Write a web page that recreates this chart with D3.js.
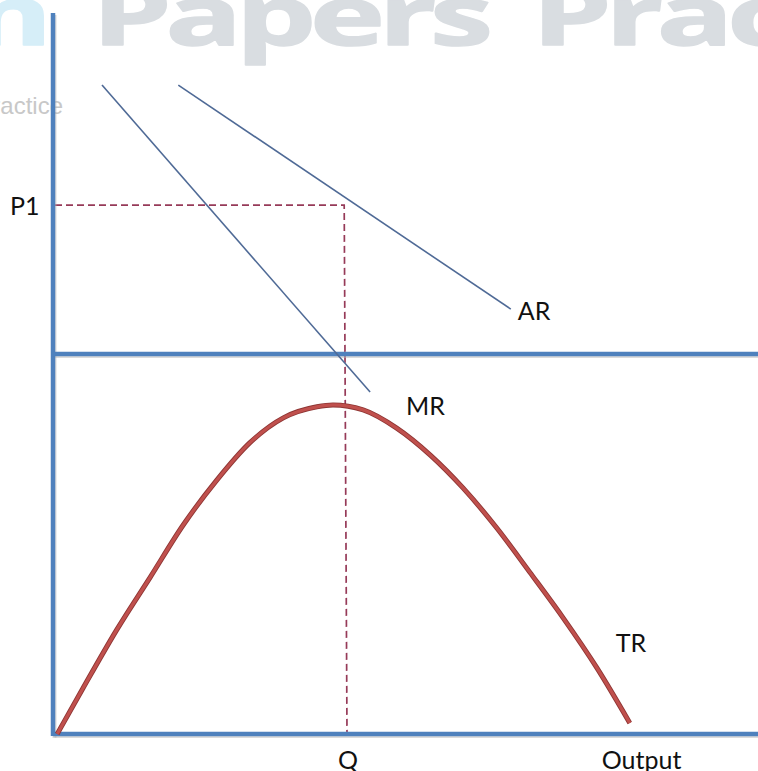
<!DOCTYPE html>
<html>
<head>
<meta charset="utf-8">
<script src="https://cdn.jsdelivr.net/npm/d3@7"></script>
<style>
  body { margin: 0; background: #fff; }
  svg { display: block; }
</style>
</head>
<body>
<svg id="chart"></svg>
<script>
// revenue curves (output 0-100, price / revenue 0-100)
const arOutput = [17.9, 65.4];
const arPrice = [79.1, 13.2];
const mrOutput = [7.0, 45.3];
const mrPrice = [79.1, -11.2];

const trOutput = [0.6, 4.3, 9.1, 13.9, 18.6, 23.4, 28.1, 32.9, 37.7, 40.0, 44.3, 49.1, 53.9, 58.6, 63.4, 68.1, 72.9, 77.7, 82.4];
const trRevenue = [0, 12.1, 27.4, 41.3, 55.0, 66.8, 76.6, 83.2, 86.1, 86.6, 85.3, 80.5, 73.4, 64.7, 54.2, 42.6, 30.5, 17.4, 2.9];

const p1 = 43.8;
const qOutput = [41.6, 42.0];   // dashed drop line drifts slightly
const labels = ["P1", "AR", "MR", "TR", "Q", "Output"];

const width = 758;
const height = 771;

const svg = d3.select('#chart')
    .attr('width', width)
    .attr('height', height);

let x = d3.scaleLinear().domain([0, 100]).range([53, 753]);
let yTop = d3.scaleLinear().domain([0, 100]).range([354, 14]);
let yBot = d3.scaleLinear().domain([0, 100]).range([734, 354]);

// watermark, stretched wide like the source logo
const wm = svg.append("g").attr("font-family", "Open Sans").attr("font-weight", 700)
    .attr("font-size", 82).attr("letter-spacing", -4)
    .attr("stroke-width", 1.5).attr("stroke-linejoin", "round");
let papers = wm.append("text").attr("fill", "#d9dde1").attr("stroke", "#d9dde1").text("Papers");
let sx = 395 / papers.node().getComputedTextLength();
papers.attr("transform", `translate(92,45) scale(${sx},1)`);
wm.append("text").attr("fill", "#d9dde1").attr("stroke", "#d9dde1").text("Practice")
    .attr("transform", `translate(532,45) scale(${sx},1)`);
wm.append("text").attr("fill", "#d6eef8").attr("stroke", "#d6eef8").attr("text-anchor", "end").text("Exam")
    .attr("transform", `translate(46,45) scale(${sx},1)`);
svg.append("text").attr("x", 63).attr("y", 114).attr("text-anchor", "end")
    .attr("font-family", "Liberation Sans").attr("font-size", 24).attr("fill", "#c8c8c8")
    .text("Exam Papers Practice");

// dashed guides
const dash = d3.line()([
    [x(0) + 2, yTop(p1)],
    [x(qOutput[0]), yTop(p1)],
    [x(qOutput[1]), yBot(0)]
]);
svg.append("path").attr("d", dash).attr("fill", "none")
    .attr("stroke", "#963a58").attr("stroke-width", 1.7).attr("stroke-dasharray", "7,4");

// axes (with a soft shadow)
const axes = [
    [[x(0), 13], [x(0), yBot(0) + 2]],
    [[x(0), yTop(0)], [width, yTop(0)]],
    [[x(0), yBot(0)], [width, yBot(0)]]
];
axes.forEach(a => {
    svg.append("path").attr("d", d3.line()(a.map(p => [p[0] + 1.5, p[1] + 2])))
        .attr("stroke", "#b8b8b8").attr("stroke-opacity", 0.5).attr("stroke-width", 4);
});
axes.forEach(a => {
    svg.append("path").attr("d", d3.line()(a))
        .attr("stroke", "#4f81bd").attr("stroke-width", 4.5);
});

// AR and MR
const straight = d3.line().x(d => x(d[0])).y(d => yTop(d[1]));
svg.append("path").attr("d", straight(d3.zip(arOutput, arPrice)))
    .attr("fill", "none").attr("stroke", "#4f6a96").attr("stroke-width", 1.6);
svg.append("path").attr("d", straight(d3.zip(mrOutput, mrPrice)))
    .attr("fill", "none").attr("stroke", "#4f6a96").attr("stroke-width", 1.6);

// TR
const trLine = d3.line().x(d => x(d[0])).y(d => yBot(d[1])).curve(d3.curveMonotoneX);
const trPts = d3.zip(trOutput, trRevenue);
svg.append("path").attr("d", trLine(trPts))
    .attr("fill", "none").attr("stroke", "#8e3634").attr("stroke-width", 5);
svg.append("path").attr("d", trLine(trPts))
    .attr("fill", "none").attr("stroke", "#c0504d").attr("stroke-width", 3.2);

// labels
const lab = svg.append("g").attr("font-family", "Lato").attr("font-size", 25).attr("fill", "#111");
lab.append("text").attr("x", x(0) - 43).attr("y", yTop(p1) + 10).text(labels[0]);
lab.append("text").attr("x", x(arOutput[1]) + 7).attr("y", yTop(arPrice[1]) + 11).text(labels[1]);
lab.append("text").attr("x", x(mrOutput[1]) + 36).attr("y", yTop(mrPrice[1]) + 23).text(labels[2]);
lab.append("text").attr("x", x(trOutput[18]) - 14).attr("y", yBot(trRevenue[18]) - 71).text(labels[3]);
lab.append("text").attr("x", x(qOutput[1]) - 9).attr("y", yBot(0) + 35).text(labels[4]);
lab.append("text").attr("x", x(trOutput[18]) - 28).attr("y", yBot(0) + 35).text(labels[5]);
</script>
</body>
</html>
